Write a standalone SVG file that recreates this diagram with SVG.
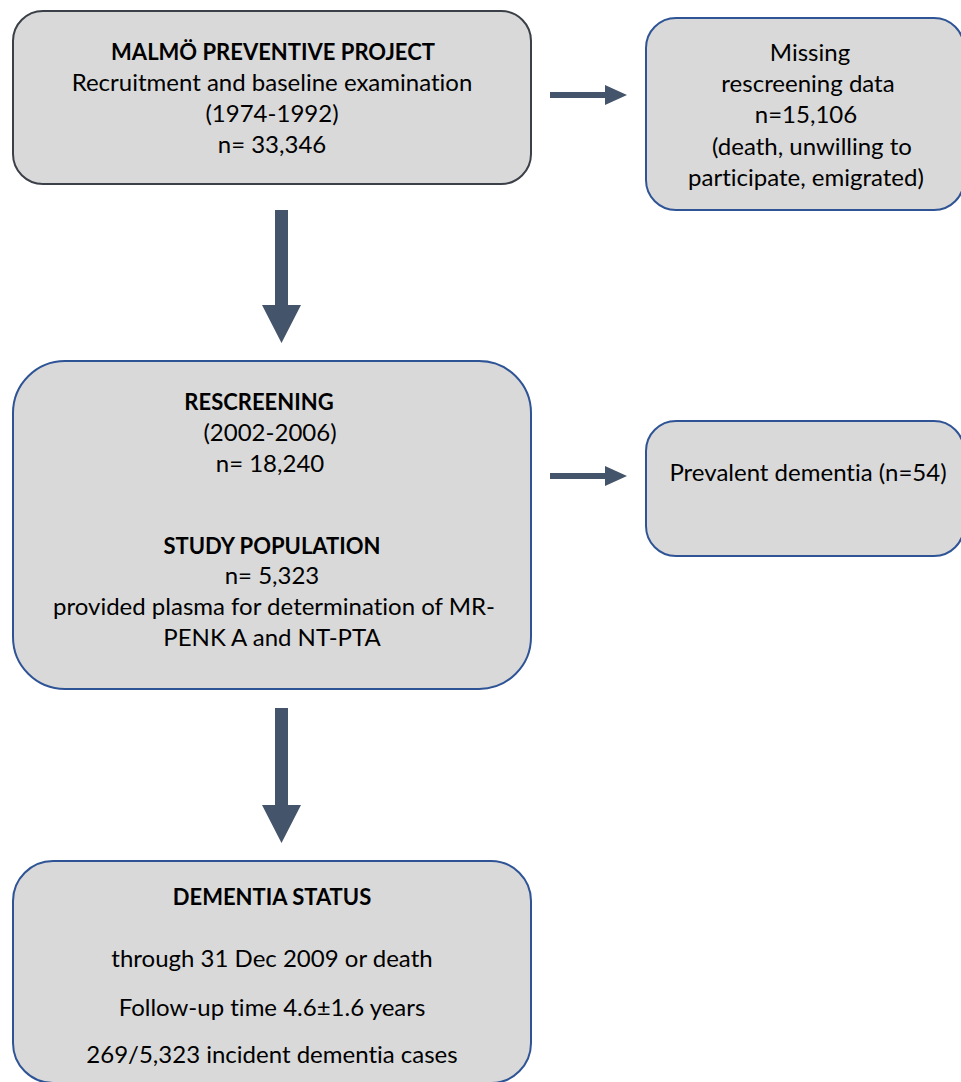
<svg xmlns="http://www.w3.org/2000/svg" width="961" height="1082" viewBox="0 0 961 1082">
<style>
.box{fill:#d9d9d9;stroke:#2f5496;stroke-width:2}
.dark{stroke:#3b3f47}
.t{font-family:Lato,"Liberation Sans",sans-serif;font-size:24px;fill:#000;text-anchor:middle;font-variant-ligatures:none}
.b{font-weight:bold;font-size:22px}
.arr{fill:#44546a}
</style>
<rect width="961" height="1082" fill="#fff"/>
<g id="malmo">
<rect class="box dark" x="13" y="11" width="518" height="173" rx="30"/>
<text class="t b" x="273" y="60">MALMÖ PREVENTIVE PROJECT</text>
<text class="t" x="272" y="91">Recruitment and baseline examination</text>
<text class="t" x="272" y="122">(1974-1992)</text>
<text class="t" x="272" y="153">n= 33,346</text>
</g>
<g id="missing">
<rect class="box" x="646" y="18" width="318" height="192" rx="30"/>
<text class="t" x="810" y="61">Missing</text>
<text class="t" x="808" y="92">rescreening data</text>
<text class="t" x="806" y="123">n=15,106</text>
<text class="t" x="812" y="155">(death, unwilling to</text>
<text class="t" x="806" y="186">participate, emigrated)</text>
</g>
<g id="rescreening">
<rect class="box" x="13" y="361" width="518" height="328" rx="52"/>
<text class="t b" x="259" y="410">RESCREENING</text>
<text class="t" x="270" y="441">(2002-2006)</text>
<text class="t" x="270" y="472">n= 18,240</text>
<text class="t b" x="272" y="554">STUDY POPULATION</text>
<text class="t" x="272" y="584">n= 5,323</text>
<text class="t" x="274" y="615">provided plasma for determination of MR-</text>
<text class="t" x="272" y="646">PENK A and NT-PTA</text>
</g>
<g id="prevalent">
<rect class="box" x="646" y="421" width="318" height="135" rx="30"/>
<text class="t" x="808" y="481">Prevalent dementia (n=54)</text>
</g>
<g id="status">
<rect class="box" x="13" y="861" width="518" height="222" rx="40"/>
<text class="t b" x="272" y="905">DEMENTIA STATUS</text>
<text class="t" x="272" y="967">through 31 Dec 2009 or death</text>
<text class="t" x="272" y="1016">Follow-up time 4.6±1.6 years</text>
<text class="t" x="272" y="1063">269/5,323 incident dementia cases</text>
</g>
<g id="connectors">
<polygon class="arr" points="550,92 605,92 605,85 627,95 605,105 605,98 550,98"/>
<polygon class="arr" points="550,473 605,473 605,466 627,476 605,486 605,479 550,479"/>
<polygon class="arr" points="275,210 288,210 288,305 301,305 281.5,343 262,305 275,305"/>
<polygon class="arr" points="275,708 288,708 288,805 301,805 281.5,843 262,805 275,805"/>
</g>
</svg>
